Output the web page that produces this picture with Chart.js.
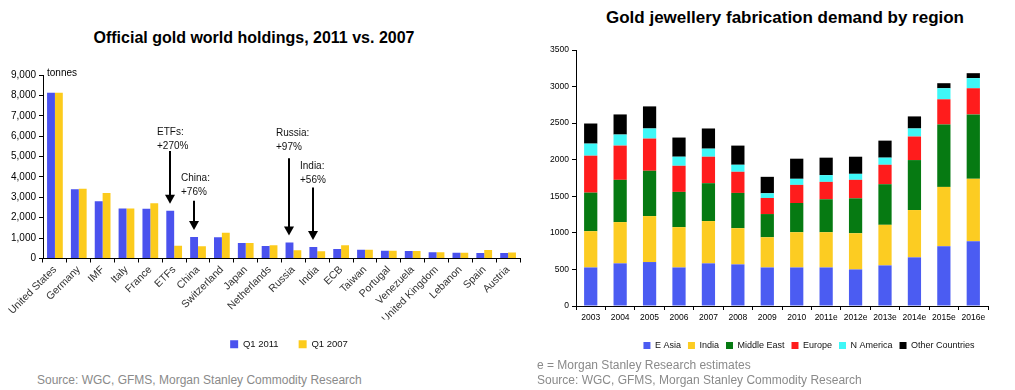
<!DOCTYPE html>
<html>
<head>
<meta charset="utf-8">
<script src="https://cdn.jsdelivr.net/npm/chart.js@4.4.1/dist/chart.umd.min.js"></script>
<style>
  body { margin: 0; background: #fff; font-family: "Liberation Sans", Arial, sans-serif; }
  #wrap { position: relative; width: 1015px; height: 390px; overflow: hidden; }
  canvas { position: absolute; }
  .title { position: absolute; font-weight: bold; color: #000; white-space: nowrap; transform: translateX(-50%); }
  .note { position: absolute; font-size: 12px; color: #8a8a8a; white-space: nowrap; }
</style>
</head>
<body>
<div id="wrap">
  <div class="title" style="left:254px; top:29px; font-size:16px;">Official gold world holdings, 2011 vs. 2007</div>
  <div class="title" style="left:785px; top:8px; font-size:17px;">Gold jewellery fabrication demand by region</div>
  <canvas id="holdings" width="525" height="304" style="left:0; top:55px;"></canvas>
  <canvas id="jewellery" width="485" height="330" style="left:530px; top:30px;"></canvas>
  <div class="note" style="left:37px; top:373px;">Source: WGC, GFMS, Morgan Stanley Commodity Research</div>
  <div class="note" style="left:537px; top:358px;">e = Morgan Stanley Research estimates</div>
  <div class="note" style="left:537px; top:373px;">Source: WGC, GFMS, Morgan Stanley Commodity Research</div>
</div>
<script>
// ---- left chart: official holdings (tonnes)
const holders = ['United States', 'Germany', 'IMF', 'Italy', 'France', 'ETFs', 'China', 'Switzerland',
  'Japan', 'Netherlands', 'Russia', 'India', 'ECB', 'Taiwan', 'Portugal', 'Venezuela',
  'United Kingdom', 'Lebanon', 'Spain', 'Austria'];
const q1_2011 = [8133, 3401, 2814, 2452, 2435, 2340, 1054, 1040, 765, 612, 790, 558, 470, 424, 383, 365, 310, 287, 270, 270];
const q1_2007 = [8133, 3423, 3217, 2452, 2710, 630, 600, 1260, 765, 650, 400, 358, 650, 424, 383, 365, 310, 287, 418, 300];

// arrow call-outs: category, text, value where text starts, value of arrow tail
const callouts = [
  { at: 'ETFs', lines: ['ETFs:', '+270%'], textAt: 6170, tailAt: 5270 },
  { at: 'China', lines: ['China:', '+76%'], textAt: 3930, tailAt: 2830 },
  { at: 'Russia', lines: ['Russia:', '+97%'], textAt: 6120, tailAt: 4920 },
  { at: 'India', lines: ['India:', '+56%'], textAt: 4530, tailAt: 3480 }
];

// ---- right chart: jewellery fabrication demand (tonnes)
const years = ['2003', '2004', '2005', '2006', '2007', '2008', '2009', '2010', '2011e', '2012e', '2013e', '2014e', '2015e', '2016e'];
const eAsia      = [527, 583, 601, 527, 583, 569, 527, 527, 527, 500, 555, 665, 817, 885];
const india      = [496, 564, 628, 551, 578, 495, 413, 482, 482, 495, 555, 647, 811, 854];
const middleEast = [527, 578, 620, 482, 518, 482, 317, 399, 450, 477, 555, 683, 854, 880];
const europe     = [505, 468, 440, 357, 362, 289, 220, 248, 238, 253, 266, 322, 344, 358];
const nAmerica   = [165, 151, 138, 124, 110, 96, 64, 83, 92, 82, 97, 110, 151, 138];
const otherCtry  = [275, 275, 302, 262, 276, 262, 225, 275, 239, 234, 233, 165, 69, 68];

const FONT = '"Liberation Sans", Arial, sans-serif';
Chart.defaults.font.family = FONT;
Chart.defaults.color = '#000';

function withCommas(v) {
  return String(v).replace(/\B(?=(\d{3})+(?!\d))/g, ',');
}

// move a legend sideways (legends are centred on the whole canvas by default)
function legendShift(dx) {
  return {
    id: 'legendShift',
    afterLayout(chart) {
      chart.legend.left += dx;
      chart.legend.right += dx;
    }
  };
}

const calloutPlugin = {
  id: 'callouts',
  afterDatasetsDraw(chart) {
    const ctx = chart.ctx;
    const y = chart.scales.y;
    const meta = chart.getDatasetMeta(0);
    ctx.save();
    // unit label
    ctx.font = '10px ' + FONT;
    ctx.fillStyle = '#000';
    ctx.textBaseline = 'middle';
    ctx.fillText('tonnes', chart.chartArea.left + 4, y.top - 2);

    callouts.forEach(c => {
      const bar = meta.data[holders.indexOf(c.at)];
      const x = Math.round(bar.x);
      const tip = bar.y - 7;
      const tail = y.getPixelForValue(c.tailAt);
      ctx.strokeStyle = '#000';
      ctx.lineWidth = 2;
      ctx.beginPath();
      ctx.moveTo(x, tail);
      ctx.lineTo(x, tip - 8);
      ctx.stroke();
      ctx.fillStyle = '#000';
      ctx.beginPath();
      ctx.moveTo(x - 5, tip - 9);
      ctx.lineTo(x + 5, tip - 9);
      ctx.lineTo(x, tip);
      ctx.closePath();
      ctx.fill();

      const ty = y.getPixelForValue(c.textAt);
      ctx.fillStyle = '#111';
      c.lines.forEach((t, i) => ctx.fillText(t, x - 13, ty + i * 14));
    });
    ctx.restore();
  }
};

new Chart(document.getElementById('holdings'), {
  type: 'bar',
  data: {
    labels: holders,
    datasets: [
      { label: 'Q1 2011', data: q1_2011, backgroundColor: '#4a52ee' },
      { label: 'Q1 2007', data: q1_2007, backgroundColor: '#fccb1c' }
    ]
  },
  options: {
    responsive: false,
    devicePixelRatio: 1,
    animation: false,
    layout: { padding: { top: 20, right: 5, left: 0, bottom: 0 } },
    datasets: { bar: { categoryPercentage: 0.66, barPercentage: 1 } },
    plugins: {
      legend: {
        position: 'bottom',
        labels: { boxWidth: 8, boxHeight: 8, padding: 20, font: { size: 9.5 }, color: '#111' }
      },
      tooltip: { enabled: false }
    },
    scales: {
      x: {
        grid: { display: true, drawOnChartArea: false, color: '#000', tickLength: 4, offset: true },
        border: { color: '#000' },
        ticks: { minRotation: 45, maxRotation: 45, autoSkip: false, font: { size: 10.5 }, color: '#333', padding: 1 },
        afterFit(s) { s.height = 61; }
      },
      y: {
        min: 0, max: 9000,
        grid: { display: true, drawOnChartArea: false, color: '#000', tickLength: 4 },
        border: { color: '#000' },
        ticks: { stepSize: 1000, font: { size: 10 }, callback: v => withCommas(v) },
        afterFit(s) { s.width = 43; }
      }
    }
  },
  plugins: [calloutPlugin, legendShift(29)]
});

new Chart(document.getElementById('jewellery'), {
  type: 'bar',
  data: {
    labels: years,
    datasets: [
      { label: 'E Asia', data: eAsia, backgroundColor: '#4b5cf2' },
      { label: 'India', data: india, backgroundColor: '#fccc22' },
      { label: 'Middle East', data: middleEast, backgroundColor: '#067a12' },
      { label: 'Europe', data: europe, backgroundColor: '#ff1c1c' },
      { label: 'N America', data: nAmerica, backgroundColor: '#3ff7f7' },
      { label: 'Other Countries', data: otherCtry, backgroundColor: '#000000' }
    ]
  },
  options: {
    responsive: false,
    devicePixelRatio: 1,
    animation: false,
    layout: { padding: { top: 20, right: 27, left: 0, bottom: 0 } },
    datasets: { bar: { categoryPercentage: 1, barPercentage: 0.45 } },
    plugins: {
      legend: {
        position: 'bottom',
        labels: { boxWidth: 7, boxHeight: 7, padding: 7, font: { size: 9 }, color: '#111' }
      },
      tooltip: { enabled: false }
    },
    scales: {
      x: {
        stacked: true,
        grid: { display: true, drawOnChartArea: false, color: '#000', tickLength: 4, offset: true },
        border: { color: '#000' },
        ticks: { maxRotation: 0, autoSkip: false, font: { size: 8.5 } },
        afterFit(s) { s.height = 28; }
      },
      y: {
        stacked: true,
        min: 0, max: 3500,
        grid: { display: true, drawOnChartArea: false, color: '#000', tickLength: 4 },
        border: { color: '#000' },
        ticks: { stepSize: 500, font: { size: 8.5 }, callback: v => String(v) },
        afterFit(s) { s.width = 46; }
      }
    }
  },
  plugins: [legendShift(50)]
});
</script>
</body>
</html>
